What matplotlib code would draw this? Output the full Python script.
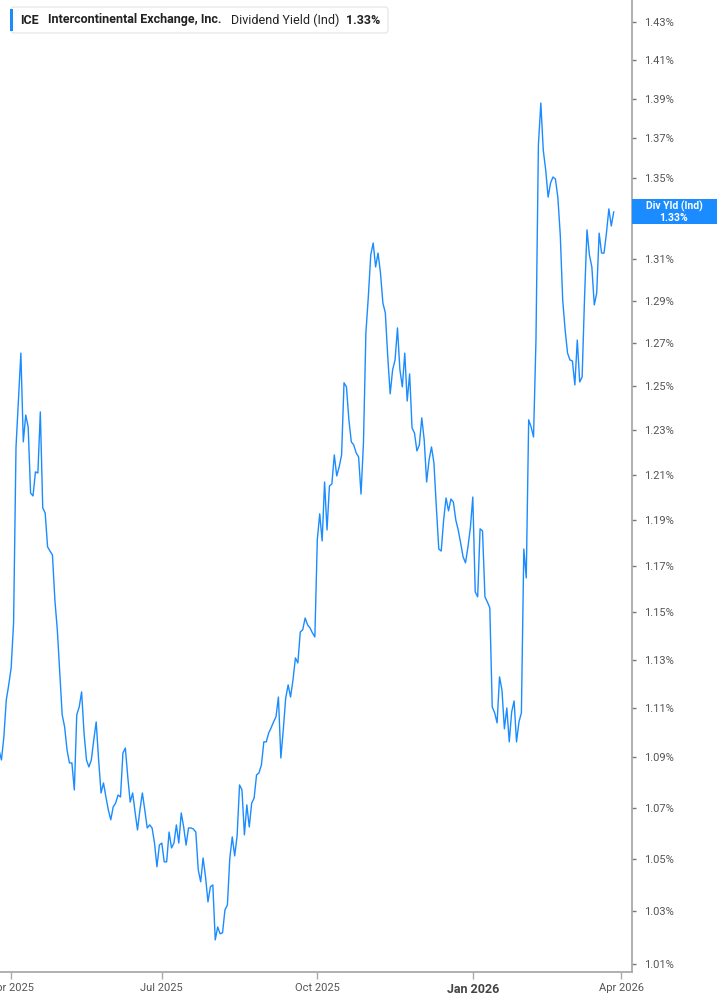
import numpy as np
import pandas as pd
import matplotlib
matplotlib.use("Agg")
import matplotlib.pyplot as plt
from matplotlib.patches import FancyBboxPatch, Rectangle
from matplotlib.ticker import FixedLocator, NullLocator, FuncFormatter

plt.rcParams['font.family'] = ['Roboto', 'DejaVu Sans']

# ICE dividend yield (indicated), %, one value per trading day
yld = [
    1.0930, 1.0890, 1.0983, 1.1134, 1.1196, 1.1267, 1.1455, 1.2224, 1.2438, 1.2655,
    1.2247, 1.2369, 1.2315, 1.2018, 1.2005, 1.2112, 1.2107, 1.2383, 1.1952, 1.1930,
    1.1781, 1.1763, 1.1746, 1.1552, 1.1426, 1.1246, 1.1073, 1.1024, 1.0930, 1.0878,
    1.0878, 1.0770, 1.1073, 1.1105, 1.1167, 1.0999, 1.0890, 1.0862, 1.0890, 1.0971,
    1.1044, 1.0890, 1.0758, 1.0798, 1.0742, 1.0691, 1.0652, 1.0703, 1.0718, 1.0750,
    1.0742, 1.0918, 1.0938, 1.0822, 1.0722, 1.0758, 1.0683, 1.0612, 1.0691, 1.0758,
    1.0691, 1.0620, 1.0632, 1.0620, 1.0561, 1.0469, 1.0553, 1.0561, 1.0488, 1.0488,
    1.0604, 1.0542, 1.0561, 1.0632, 1.0561, 1.0679, 1.0624, 1.0553, 1.0620, 1.0620,
    1.0616, 1.0604, 1.0457, 1.0411, 1.0503, 1.0430, 1.0334, 1.0392, 1.0399, 1.0190,
    1.0239, 1.0213, 1.0217, 1.0304, 1.0322, 1.0503, 1.0585, 1.0511, 1.0589, 1.0790,
    1.0770, 1.0593, 1.0711, 1.0624, 1.0718, 1.0738, 1.0830, 1.0838, 1.0870, 1.0963,
    1.0963, 1.0999, 1.1020, 1.1044, 1.1065, 1.1146, 1.0898, 1.1012, 1.1142, 1.1196,
    1.1146, 1.1217, 1.1308, 1.1287, 1.1417, 1.1426, 1.1476, 1.1447, 1.1434, 1.1413,
    1.1396, 1.1812, 1.1926, 1.1807, 1.2067, 1.1855, 1.2049, 1.2058, 1.2188, 1.2094,
    1.2134, 1.2188, 1.2517, 1.2498, 1.2347, 1.2247, 1.2233, 1.2197, 1.2179, 1.2013,
    1.2242, 1.2750, 1.2920, 1.3122, 1.3180, 1.3064, 1.3131, 1.3035, 1.2891, 1.2844,
    1.2637, 1.2466, 1.2577, 1.2623, 1.2773, 1.2577, 1.2498, 1.2655, 1.2433, 1.2558,
    1.2310, 1.2287, 1.2206, 1.2233, 1.2356, 1.2256, 1.2067, 1.2165, 1.2224, 1.2152,
    1.1956, 1.1772, 1.1763, 1.1899, 1.1996, 1.1939, 1.1991, 1.1978, 1.1899, 1.1855,
    1.1798, 1.1738, 1.1712, 1.1781, 1.1864, 1.2000, 1.1587, 1.1566, 1.1860, 1.1851,
    1.1566, 1.1544, 1.1519, 1.1105, 1.1081, 1.1040, 1.1229, 1.1175, 1.1016, 1.1101,
    1.0963, 1.1085, 1.1130, 1.0963, 1.1044, 1.1081, 1.1772, 1.1647, 1.2347, 1.2315,
    1.2269, 1.2717, 1.3666, 1.3879, 1.3640, 1.3540, 1.3405, 1.3475, 1.3505, 1.3495,
    1.3405, 1.3219, 1.2905, 1.2764, 1.2655, 1.2623, 1.2618, 1.2507, 1.2716, 1.2521,
    1.2544, 1.2920, 1.3244, 1.3122, 1.3064, 1.2882, 1.2939, 1.3228, 1.3131, 1.3131,
    1.3228, 1.3347, 1.3263, 1.3332,
]

nyse_holidays = ['2025-04-18', '2025-05-26', '2025-06-19', '2025-07-04', '2025-09-01',
                 '2025-11-27', '2025-12-25', '2026-01-01', '2026-01-19', '2026-02-16',
                 '2026-04-03']
last_day = '2026-03-27'
bday = pd.offsets.CustomBusinessDay(holidays=nyse_holidays)
dates = pd.date_range(end=last_day, periods=len(yld), freq=bday)
# trading calendar carried a little past the data so the Apr 2026 tick can be placed
calendar = pd.date_range(start=dates[0], end='2026-04-15', freq=bday)

yticks = [1.01, 1.03, 1.05, 1.07, 1.09, 1.11, 1.13, 1.15, 1.17, 1.19, 1.21,
          1.23, 1.25, 1.27, 1.29, 1.31, 1.33, 1.35, 1.37, 1.39, 1.41, 1.43]
xtick_dates = ['2025-04-01', '2025-07-01', '2025-10-01', '2026-01-01', '2026-04-01']
xtick_labels = ['Apr 2025', 'Jul 2025', 'Oct 2025', 'Jan 2026', 'Apr 2026']

blue = '#1a8cff'
W, H = 717, 1005
fig = plt.figure(figsize=(W / 100, H / 100), dpi=100)
ax = fig.add_axes([0, 33 / H, 631.7 / W, 972 / H])

# the chart spaces trading sessions evenly (no gaps for weekends/holidays)
xi = np.arange(len(yld))
ax.plot(xi, yld, color=blue, lw=1.0, solid_joinstyle='round')

ax.set_yscale('log')
ax.set_ylim(1.0070, 1.4417)
ax.set_xlim(0.41, 260.4)

ax.yaxis.tick_right()
ax.yaxis.set_major_locator(FixedLocator(yticks))
ax.yaxis.set_minor_locator(NullLocator())
ax.yaxis.set_major_formatter(FuncFormatter(
    lambda v, p: '' if abs(v - round(yld[-1], 2)) < 1e-9 else f'{v:.2f}%'))
ax.tick_params(axis='y', which='major', length=3, width=1, color='#777777',
               pad=6, labelsize=8, labelcolor='#555555')

xpos = calendar.searchsorted(pd.to_datetime(xtick_dates))
ax.set_xticks(xpos)
ax.set_xticklabels(xtick_labels)
ax.tick_params(axis='x', length=5, width=1, color='#aaaaaa', pad=3,
               labelsize=8, labelcolor='#555555')
for lab in ax.get_xticklabels():
    if lab.get_text().startswith('Jan'):
        lab.set_fontweight('bold')
        lab.set_fontsize(9)
        lab.set_color('#444444')

for s in ['left', 'top']:
    ax.spines[s].set_visible(False)
for s in ['right', 'bottom']:
    ax.spines[s].set_color('#aaaaaa')
    ax.spines[s].set_linewidth(1.3)

# header box
fig.patches.append(FancyBboxPatch((11 / W, 1 - 33 / H), 377 / W, 26 / H,
                                  boxstyle='round,pad=0,rounding_size=0.004',
                                  transform=fig.transFigure, facecolor='white',
                                  edgecolor='#e4e4e4', lw=0.8))
fig.patches.append(Rectangle((10 / W, 1 - 31 / H), 3 / W, 22 / H,
                             transform=fig.transFigure, facecolor=blue, edgecolor='none'))
ty = 1 - 20 / H
fig.text(20 / W, ty, 'ICE', fontsize=9, fontweight='bold', color='#222222', va='center')
fig.text(48 / W, ty, 'Intercontinental Exchange, Inc.', fontsize=9, fontweight='bold',
         color='#222222', va='center')
fig.text(231 / W, ty, 'Dividend Yield (Ind)', fontsize=9, color='#222222', va='center')
fig.text(346 / W, ty, f'{yld[-1]:.2f}%', fontsize=9, fontweight='bold',
         color='#222222', va='center')

# last value label on the axis
yp = ax.transData.transform((0, yld[-1]))[1]
yc = yp / H
fig.patches.append(Rectangle((632 / W, yc - 12.5 / H), 85 / W, 25 / H,
                             transform=fig.transFigure, facecolor=blue, edgecolor='none',
                             zorder=5))
fig.text(674 / W, yc + 6 / H, 'Div Yld (Ind)', fontsize=7.5, fontweight='bold', color='white',
         ha='center', va='center', zorder=6)
fig.text(674 / W, yc - 6 / H, f'{yld[-1]:.2f}%', fontsize=7.5, fontweight='bold',
         color='white', ha='center', va='center', zorder=6)

fig.savefig('out.png', dpi=100)
